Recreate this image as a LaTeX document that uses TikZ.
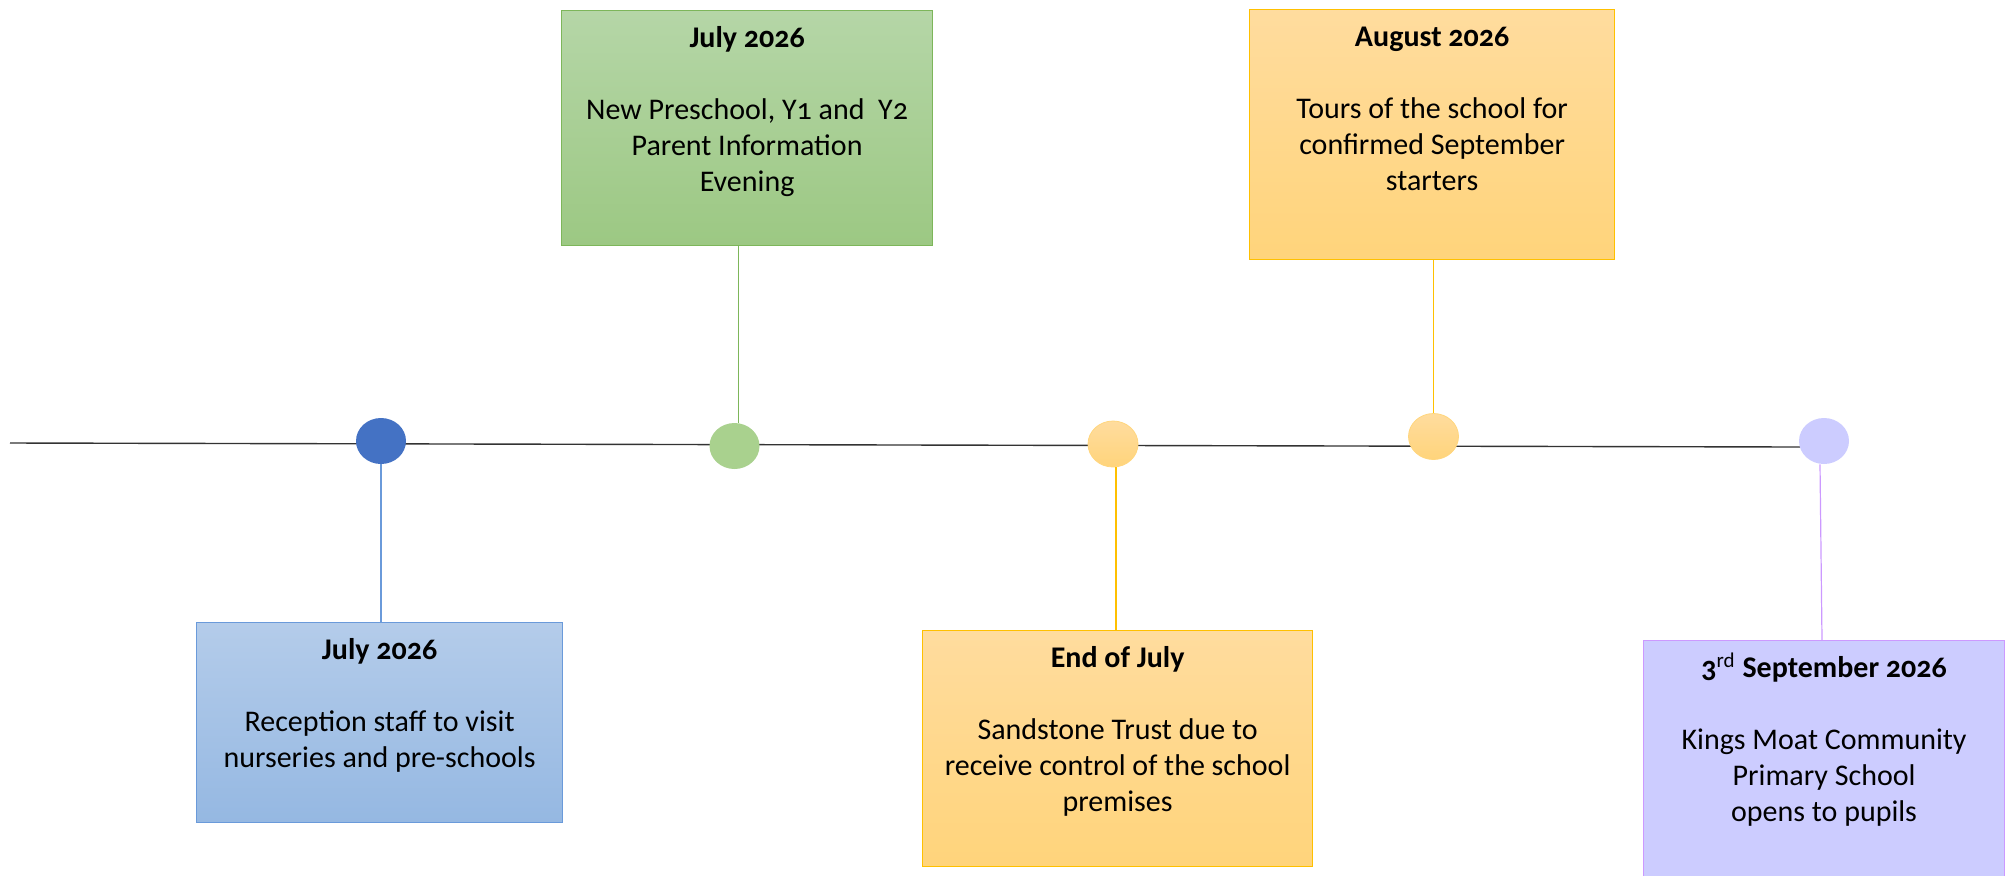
\documentclass[tikz,border=0pt]{standalone}
\usepackage{fontspec}
\setmainfont{Carlito}[Numbers=OldStyle]
\usetikzlibrary{shapes.geometric}

\definecolor{bluedot}{HTML}{4472C4}
\definecolor{bluetop}{HTML}{B4CCEA}
\definecolor{bluebot}{HTML}{95B8E2}
\definecolor{blueline}{HTML}{6A9ADA}
\definecolor{greendot}{HTML}{A9D18E}
\definecolor{greentop}{HTML}{B5D6A7}
\definecolor{greenbot}{HTML}{9CC883}
\definecolor{greenline}{HTML}{7DB65A}
\definecolor{orangetop}{HTML}{FFDC9E}
\definecolor{orangebot}{HTML}{FFD47B}
\definecolor{orangeline}{HTML}{FFC000}
\definecolor{purplefill}{HTML}{CCCCFF}
\definecolor{purpleline}{HTML}{CC99FF}

% box text: width, height, title, body
\newcommand{\boxtext}[4]{\parbox[t][#2][t]{#1}{\centering\vspace*{6pt}\strut\textbf{#3}\\[18pt]#4}}

\tikzset{
  every node/.style={font=\fontsize{15}{18}\selectfont},
  evbox/.style={draw, line width=0.6pt, inner sep=0pt, anchor=north west},
  evdot/.style={ellipse, inner sep=0pt, minimum width=25pt, minimum height=23pt},
  link/.style={line width=0.6pt}
}

\begin{document}
\begin{tikzpicture}[x=0.5pt,y=-0.5pt]
\useasboundingbox (0,0) rectangle (2013,875);
% timeline
\coordinate (tlstart) at (10,443);
\coordinate (tlend) at (1800,447);
\draw [black!80, line width=0.7pt] (tlstart) -- (tlend);
% dots
\node [evdot, fill=bluedot] (recepdot) at (381,441) {};
\node [evdot, fill=greendot] (parentdot) at (734.5,446) {};
\node [evdot, top color=orangetop, bottom color=orangebot, draw=orangetop!80!orangeline, line width=0.4pt] (trustdot) at (1113,444) {};
\node [evdot, top color=orangetop, bottom color=orangebot, draw=orangetop!80!orangeline, line width=0.4pt] (toursdot) at (1433.5,436.5) {};
\node [evdot, fill=purplefill] (opendot) at (1824,441) {};
% boxes
\node [evbox, draw=blueline, top color=bluetop, bottom color=bluebot] (recepbox) at (196,622)
  {\boxtext{183pt}{100pt}{July 2026}{Reception staff to visit\\nurseries and pre-schools}};
\node [evbox, draw=greenline, top color=greentop, bottom color=greenbot] (parentbox) at (561,10)
  {\boxtext{185.5pt}{117.5pt}{July 2026}{New Preschool, Y1 and\ \ Y2\\Parent Information\\Evening}};
\node [evbox, draw=orangeline, top color=orangetop, bottom color=orangebot] (trustbox) at (922,630)
  {\boxtext{195pt}{118pt}{End of July}{Sandstone Trust due to\\receive control of the school\\premises}};
\node [evbox, draw=orangeline, top color=orangetop, bottom color=orangebot] (toursbox) at (1249,9)
  {\boxtext{182.5pt}{125pt}{August 2026}{Tours of the school for\\confirmed September\\starters}};
\node [evbox, draw=purpleline, fill=purplefill] (openbox) at (1643,640)
  {\boxtext{180.5pt}{125pt}{3\textsuperscript{\mdseries rd} September 2026}{Kings Moat Community\\Primary School\\opens to pupils}};
% links
\draw [link, blueline] (recepdot) -- (recepdot |- recepbox.north);
\draw [link, greenline] ([xshift=2pt]parentdot.north) -- ([xshift=2pt]parentdot.north |- parentbox.south);
\draw [link, orangeline] ([xshift=1.5pt]trustdot.south) -- ([xshift=1.5pt]trustdot.south |- trustbox.north);
\draw [link, orangeline] (toursdot) -- (toursdot |- toursbox.south);
\draw [link, purpleline] ([xshift=-2pt]opendot.south) -- ([xshift=-1pt]opendot.south |- openbox.north);
\end{tikzpicture}
\end{document}
